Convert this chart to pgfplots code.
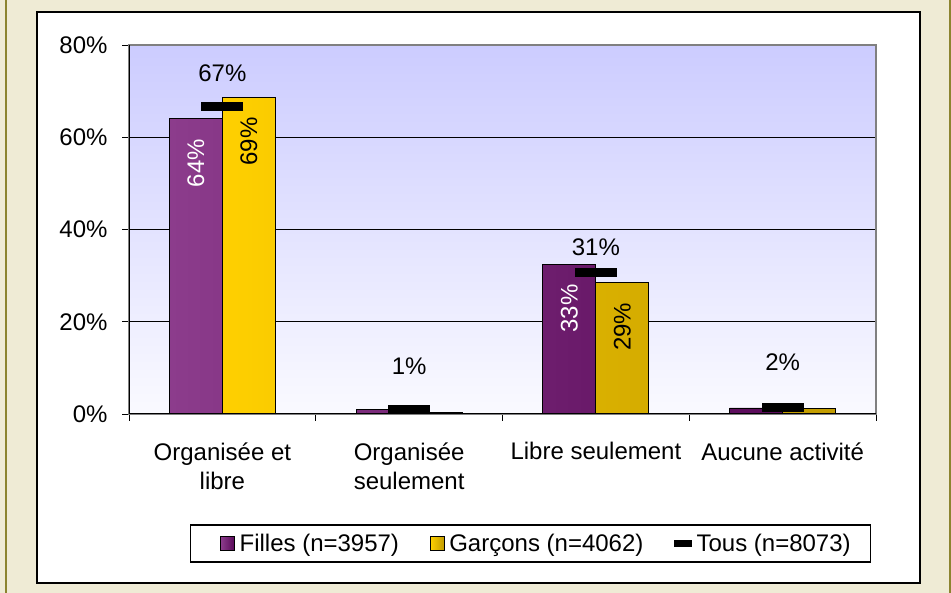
\documentclass[border=0pt]{standalone}
\usepackage{pgfplots}
\pgfplotsset{compat=1.18}
\usepackage{fontspec}
\setmainfont{Liberation Sans}
\definecolor{beige}{HTML}{EFEBD5}
\definecolor{oliveline}{HTML}{8C8430}
\definecolor{bgtop}{HTML}{CCCCFF}
\definecolor{bgbot}{HTML}{FAFAFF}
\definecolor{fL}{HTML}{8C3C8C}
\definecolor{fR}{HTML}{5A0A5A}
\definecolor{gL}{HTML}{FFD000}
\definecolor{gR}{HTML}{C29C00}
\newcommand{\fs}{\fontsize{24bp}{29bp}\selectfont}
\begin{document}
\begin{tikzpicture}[x=1bp,y=1bp]
\useasboundingbox (0,0) rectangle (951,593);
\fill[beige] (0,0) rectangle (951,593);
\draw[oliveline, line width=2.5bp] (6,0) -- (6,593);
\draw[oliveline, line width=2bp] (949.5,0) -- (949.5,593);
\draw[fill=white, draw=black, line width=2.5bp] (37,10) rectangle (920,581);
\begin{axis}[
  at={(129bp,179bp)}, anchor=south west,
  scale only axis, width=747bp, height=369bp,
  xmin=-0.5, xmax=3.5, ymin=0, ymax=80,
  axis background/.style={top color=bgtop, bottom color=bgbot},
  axis line style={draw=gray, line width=1.5bp},
  ymajorgrids, grid style={black, line width=0.8bp},
  ytick={0,20,40,60,80}, yticklabels={0\%,20\%,40\%,60\%,80\%},
  xtick={-0.5,0.5,1.5,2.5,3.5}, xticklabels={},
  extra x ticks={0,1,2,3},
  extra x tick labels={{Organisée et\\libre},{Organisée\\seulement},{Libre seulement},{Aucune activité}},
  extra x tick style={major tick length=0pt, grid=none},
  x tick label style={align=center, font=\fs, yshift=-25bp},
  y tick label style={font=\fs, xshift=-11bp},
  tick align=outside, tick pos=left,
  major tick length=7bp,
  tick style={black, line width=0.8bp},
  legend style={at={(0.5375,-0.351)}, anchor=center, draw=black, line width=1.2bp,
    legend columns=3, font=\fs, inner xsep=18bp, inner ysep=7bp,
    /tikz/every odd column/.append style={column sep=3bp},
    /tikz/every even column/.append style={column sep=29bp}},
]
\addplot[ybar, bar width=53bp, bar shift=-26.5bp, draw=black, line width=0.8bp,
  left color=fL, right color=fR,
  nodes near coords, point meta=explicit symbolic,
  nodes near coords style={xshift=-26.5bp, rotate=90, anchor=east, font=\fs, text=white, inner xsep=20bp, inner ysep=0bp},
  legend image code/.code={\path (-12bp,0bp); \draw[black, line width=0.8bp, left color=fL, right color=fR] (0bp,-7bp) rectangle (13.5bp,7bp);}]
  coordinates {(0,64.0)[64\%] (1,1.0)[] (2,32.5)[33\%] (3,1.3)[]};
\addlegendentry{Filles (n=3957)}
\addplot[ybar, bar width=53bp, bar shift=26.5bp, draw=black, line width=0.8bp,
  left color=gL, right color=gR,
  nodes near coords, point meta=explicit symbolic,
  nodes near coords style={xshift=26.5bp, rotate=90, anchor=east, font=\fs, text=black, inner xsep=20bp, inner ysep=0bp},
  legend image code/.code={\draw[black, line width=0.8bp, left color=gL, right color=gR] (0bp,-7bp) rectangle (13.5bp,7bp);}]
  coordinates {(0,68.7)[69\%] (1,0.4)[] (2,28.5)[29\%] (3,1.25)[]};
\addlegendentry{Garçons (n=4062)}
\addplot[only marks, mark=-, mark size=21bp, mark options={line width=9bp, black},
  legend image code/.code={\fill[black] (0bp,-2.5bp) rectangle (16bp,2.5bp);}]
  coordinates {(0,66.7) (1,0.9) (2,30.6) (3,1.35)};
\addlegendentry{Tous (n=8073)}
\node[font=\fs] at (axis cs:0,73.9) {67\%};
\node[font=\fs] at (axis cs:1,10.4) {1\%};
\node[font=\fs] at (axis cs:2,36.2) {31\%};
\node[font=\fs] at (axis cs:3,11.3) {2\%};
\draw[black, line width=1bp] (rel axis cs:0,1) -- (rel axis cs:0,0) -- (rel axis cs:1,0);
\end{axis}
\end{tikzpicture}
\end{document}
